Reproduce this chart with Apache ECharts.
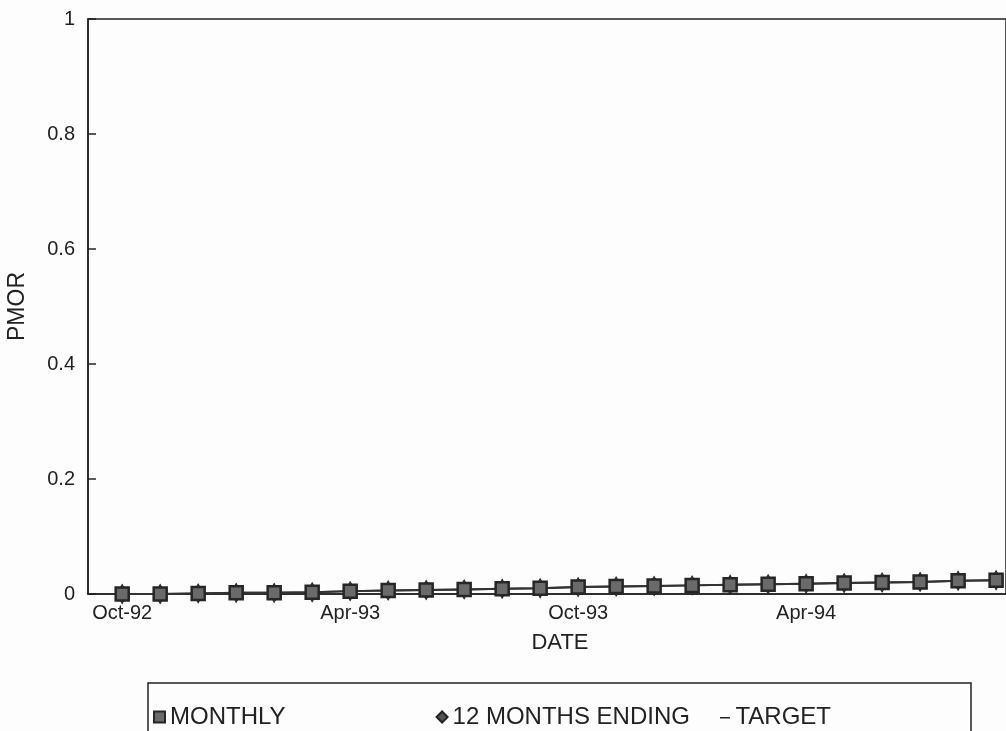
<!DOCTYPE html>
<html>
<head>
<meta charset="utf-8">
<script src="https://cdn.jsdelivr.net/npm/echarts@6/dist/echarts.min.js"></script>
<style>
html,body{margin:0;padding:0;background:#fdfdfd;}
#main{width:1006px;height:731px;}
</style>
</head>
<body>
<div id="main"></div>
<script>
// Data
var dates = ['Oct-92','Nov-92','Dec-92','Jan-93','Feb-93','Mar-93','Apr-93','May-93','Jun-93','Jul-93','Aug-93','Sep-93',
             'Oct-93','Nov-93','Dec-93','Jan-94','Feb-94','Mar-94','Apr-94','May-94','Jun-94','Jul-94','Aug-94','Sep-94'];
var monthly = [0.000,0.000,0.001,0.002,0.002,0.003,0.005,0.006,0.007,0.008,0.009,0.010,
               0.012,0.013,0.014,0.015,0.016,0.017,0.018,0.019,0.020,0.021,0.023,0.024];
var twelveMonths = [0.000,0.000,0.001,0.002,0.002,0.003,0.005,0.006,0.007,0.008,0.009,0.010,
                    0.012,0.013,0.014,0.015,0.016,0.017,0.018,0.019,0.020,0.021,0.023,0.024];
var target = [];
var xTickLabels = ['Oct-92','Apr-93','Oct-93','Apr-94'];
var yTicks = [0, 0.2, 0.4, 0.6, 0.8, 1];

var font = 'Liberation Sans, Arial, sans-serif';
var ink = '#222';

function pairs(arr){ return arr.map(function(v,i){ return [i, v]; }); }
function spaces(n){ return new Array(n + 1).join(' '); }

var chart = echarts.init(document.getElementById('main'));
chart.setOption({
  backgroundColor: '#fdfdfd',
  animation: false,
  grid: {left: 88, top: 19, right: 0, height: 575, outerBoundsMode: 'none', containLabel: false,
         show: true, borderColor: ink, borderWidth: 1.5, backgroundColor: 'transparent'},
  xAxis: {
    type: 'value', min: -0.9, max: 23.26,
    name: 'DATE', nameLocation: 'middle', nameGap: 38,
    nameTextStyle: {fontFamily: font, fontSize: 22, color: ink, padding: [0, 0, 0, 26]},
    axisLine: {show: true, onZero: false, lineStyle: {color: ink, width: 1.5}},
    axisTick: {show: false},
    splitLine: {show: false},
    axisLabel: {
      customValues: xTickLabels.map(function(l){ return dates.indexOf(l); }),
      formatter: function(v){ return dates[Math.round(v)] || ''; },
      fontFamily: font, fontSize: 20, color: ink, margin: 9
    }
  },
  yAxis: {
    type: 'value', min: yTicks[0], max: yTicks[yTicks.length-1], interval: 0.2,
    name: 'PMOR', nameLocation: 'middle', nameGap: 59, nameRotate: 90,
    nameTextStyle: {fontFamily: font, fontSize: 23, color: ink},
    axisLine: {show: true, onZero: false, lineStyle: {color: ink, width: 1.5}},
    axisTick: {show: true, inside: true, length: 8, lineStyle: {color: ink, width: 1.5}},
    splitLine: {show: false},
    axisLabel: {fontFamily: font, fontSize: 20, color: ink, margin: 13}
  },
  legend: {
    left: 148, top: 683,
    padding: [22, 140, 30, 5],
    borderColor: ink, borderWidth: 1.5,
    itemWidth: 11, itemHeight: 11, itemGap: 10,
    data: [
      {name: 'MONTHLY', icon: 'rect'},
      {name: '12 MONTHS ENDING', icon: 'diamond'},
      {name: 'TARGET', icon: 'path://M0,0L0,0M0,5.5L10,5.5L10,7L0,7ZM10,11L10,11'}
    ],
    formatter: function(n){
      if (n === 'MONTHLY') return n + spaces(21);
      if (n === '12 MONTHS ENDING') return n + spaces(3);
      return n;
    },
    textStyle: {fontFamily: font, fontSize: 24, color: ink}
  },
  series: [
    {
      name: '12 MONTHS ENDING', type: 'line', data: pairs(twelveMonths), z: 2,
      symbol: 'diamond', symbolSize: [11, 19],
      lineStyle: {color: '#333', width: 2},
      itemStyle: {color: '#555', borderColor: '#222', borderWidth: 1}
    },
    {
      name: 'MONTHLY', type: 'line', data: pairs(monthly), z: 3,
      symbol: 'rect', symbolSize: 13,
      lineStyle: {color: '#333', width: 2},
      itemStyle: {color: '#6a6a6a', borderColor: '#262626', borderWidth: 2.5}
    },
    {
      name: 'TARGET', type: 'line', data: pairs(target), symbol: 'none',
      lineStyle: {color: ink, width: 2},
      itemStyle: {color: ink}
    }
  ]
});
</script>
</body>
</html>
